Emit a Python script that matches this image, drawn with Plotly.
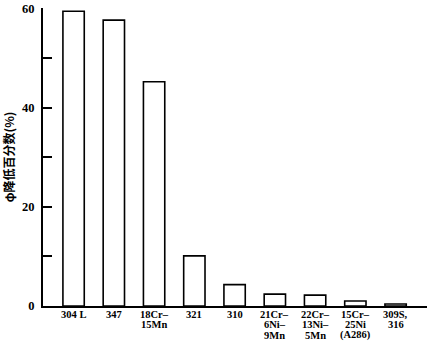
import plotly.graph_objects as go

categories = ["304 L", "347", "18Cr–<br>15Mn", "321", "310",
              "21Cr–<br>6Ni–<br>9Mn", "22Cr–<br>13Ni–<br>5Mn",
              "15Cr–<br>25Ni<br>(A286)", "309S,<br>316"]
values = [59.4, 57.6, 45.2, 10.1, 4.3, 2.4, 2.2, 1.0, 0.4]
y_ticks = [0, 20, 40, 60]
y_title = "φ降低百分数(%)"

serif = "Liberation Serif, DejaVu Serif, serif"

fig = go.Figure(go.Bar(
    x=list(range(len(categories))), y=values, width=0.53,
    marker=dict(color="white", line=dict(color="black", width=1.6)),
))
fig.update_layout(
    width=430, height=351, margin=dict(l=43, r=3, t=8, b=45),
    plot_bgcolor="white", paper_bgcolor="white", showlegend=False,
    font=dict(family=serif, size=13, color="black"),
)
# category labels, one line each, tightly spaced like the reference
for i, cat in enumerate(categories):
    for k, line in enumerate(cat.split("<br>")):
        fig.add_annotation(
            x=i, y=0, xref="x", yref="y", text=f"<b>{line}</b>",
            showarrow=False, yanchor="middle", xanchor="center", borderpad=0,
            yshift=-(8 + 10.5 * k), font=dict(family=serif, size=10.5, color="black"),
        )
fig.update_xaxes(
    range=[-0.76, 8.78], showticklabels=False, automargin=False,
    showline=True, linecolor="black", linewidth=2, ticks="", showgrid=False,
    zeroline=False,
)
fig.update_yaxes(
    range=[0, 60.05], tickvals=y_ticks, ticktext=[f"<b>{t}</b>" for t in y_ticks],
    automargin=False, ticklabeloverflow="allow",
    showline=True, linecolor="black", linewidth=2, ticks="inside", ticklen=9,
    tickwidth=1.5, tickcolor="black", showgrid=False, zeroline=False,
    minor=dict(dtick=10, ticks="inside", ticklen=9, tickwidth=1.5, tickcolor="black"),
    title=dict(text=f"<b>{y_title}</b>", font=dict(family="Noto Sans CJK SC", size=12), standoff=8),
    tickfont=dict(size=12.5), ticklabelstandoff=4,
)
fig.write_html("out.html")
